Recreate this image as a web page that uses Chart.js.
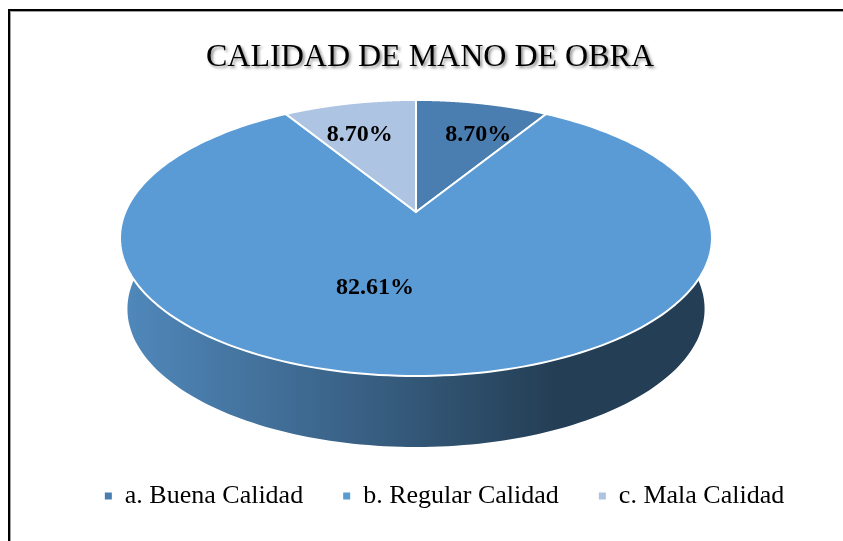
<!DOCTYPE html>
<html>
<head>
<meta charset="utf-8">
<script src="https://cdn.jsdelivr.net/npm/chart.js@4.4.0/dist/chart.umd.min.js"></script>
<style>
  html, body { margin: 0; padding: 0; background: #fff; }
  #wrap { width: 843px; height: 541px; }
</style>
</head>
<body>
<div id="wrap"><canvas id="qualityChart" width="843" height="541"></canvas></div>
<script>
const chartTitle = 'CALIDAD DE MANO DE OBRA';
const categories = ['a. Buena Calidad', 'b. Regular Calidad', 'c. Mala Calidad'];
const percentages = [8.70, 82.61, 8.70];
const sliceColors = ['#4A7EB0', '#5B9BD5', '#ADC4E3'];

// 3D pie look (perspective ellipse), measured off the Excel original
const pie = { cx: 416, cy: 212, R: 290.7, tilt: 0.458, persp: 0.188, depth: 71, shrink: 0.975 };
const labelEllipse = { cx: 416, cy: 238, rx: 296, ry: 138 };
const labelPos = [{ f: 0.78, dx: 0 }, { f: 0.36, dx: -41 }, { f: 0.78, dx: 6 }];

function rim(a, bottom) {
    const u = Math.cos(a), v = Math.sin(a);
    const s = 1 / (1 - pie.persp * v);
    let x = pie.R * u * s, y = pie.R * pie.tilt * v * s;
    if (bottom) { x *= pie.shrink; y += pie.depth; }
    return [pie.cx + x, pie.cy + y];
}

function shade(hex, k) {
    const n = parseInt(hex.slice(1), 16);
    const r = Math.round(((n >> 16) & 255) * k), g = Math.round(((n >> 8) & 255) * k), b = Math.round((n & 255) * k);
    return 'rgb(' + r + ',' + g + ',' + b + ')';
}

const pie3d = {
    id: 'pie3d',
    beforeDraw(chart) {
        const ctx = chart.ctx;
        ctx.save();
        ctx.fillStyle = '#fff';
        ctx.fillRect(0, 0, chart.width, chart.height);
        // frame
        ctx.fillStyle = '#000';
        ctx.fillRect(8, 9, 2, chart.height - 9);
        ctx.fillRect(8, 9, chart.width - 8, 2);
        ctx.fillStyle = '#a0a0a0';
        ctx.fillRect(10, 11, 1, chart.height - 11);
        ctx.fillRect(10, 11, chart.width - 10, 1);
        // title with soft shadow
        ctx.font = '32px "Liberation Serif", "Times New Roman", serif';
        ctx.textAlign = 'center';
        ctx.textBaseline = 'middle';
        ctx.shadowColor = 'rgba(0,0,0,0.45)';
        ctx.shadowOffsetX = 2;
        ctx.shadowOffsetY = 2;
        ctx.shadowBlur = 3;
        ctx.fillStyle = '#000';
        ctx.fillText(chartTitle, 430, 58);
        ctx.restore();
    },
    beforeDatasetsDraw(chart) {
        const ctx = chart.ctx;
        const arcs = chart.getDatasetMeta(0).data;
        const front0 = -0.25, front1 = Math.PI + 0.25;
        ctx.save();
        // side walls (front half only)
        arcs.forEach((arc, i) => {
            const a0 = Math.max(arc.startAngle, front0), a1 = Math.min(arc.endAngle, front1);
            if (a1 <= a0) return;
            const grad = ctx.createLinearGradient(pie.cx - pie.R, 0, pie.cx + pie.R, 0);
            grad.addColorStop(0, shade(sliceColors[i], 0.88));
            grad.addColorStop(0.5, shade(sliceColors[i], 0.56));
            grad.addColorStop(0.74, shade(sliceColors[i], 0.4));
            grad.addColorStop(1, shade(sliceColors[i], 0.4));
            ctx.fillStyle = grad;
            ctx.beginPath();
            const n = 160;
            for (let k = 0; k < n; k++) {
                const a = a0 + (a1 - a0) * k / n, b = a0 + (a1 - a0) * (k + 1) / n;
                const p1 = rim(a, false), p2 = rim(b, false), p3 = rim(b, true), p4 = rim(a, true);
                ctx.moveTo(p1[0], p1[1]);
                ctx.lineTo(p2[0], p2[1]);
                ctx.lineTo(p3[0], p3[1]);
                ctx.lineTo(p4[0], p4[1]);
                ctx.closePath();
            }
            ctx.fill();
        });
        // top face
        arcs.forEach((arc, i) => {
            ctx.beginPath();
            ctx.moveTo(pie.cx, pie.cy);
            const n = 200;
            for (let k = 0; k <= n; k++) {
                const p = rim(arc.startAngle + (arc.endAngle - arc.startAngle) * k / n, false);
                ctx.lineTo(p[0], p[1]);
            }
            ctx.closePath();
            ctx.fillStyle = sliceColors[i];
            ctx.fill();
            ctx.strokeStyle = '#fff';
            ctx.lineWidth = 2;
            ctx.lineJoin = 'round';
            ctx.stroke();
        });
        // data labels
        ctx.font = 'bold 24px "Liberation Serif", "Times New Roman", serif';
        ctx.textAlign = 'center';
        ctx.textBaseline = 'middle';
        ctx.fillStyle = '#000';
        arcs.forEach((arc, i) => {
            const mid = (arc.startAngle + arc.endAngle) / 2;
            const x = labelEllipse.cx + labelEllipse.rx * Math.cos(mid) * labelPos[i].f + labelPos[i].dx;
            const y = labelEllipse.cy + labelEllipse.ry * Math.sin(mid) * labelPos[i].f;
            ctx.fillText(percentages[i].toFixed(2) + '%', x, y);
        });
        ctx.restore();
        return false;
    }
};

const ctx = document.getElementById('qualityChart').getContext('2d');

const qualityChart = new Chart(ctx, {
    type: 'pie',
    data: {
        labels: categories,
        datasets: [{
            data: percentages,
            backgroundColor: sliceColors,
            borderWidth: 0
        }]
    },
    options: {
        responsive: false,
        animation: false,
        layout: { padding: { left: 46, right: 0, top: 0, bottom: 22 } },
        plugins: {
            title: { display: false },
            tooltip: { enabled: false },
            legend: {
                position: 'bottom',
                labels: {
                    boxWidth: 7,
                    boxHeight: 7,
                    padding: 40,
                    color: '#000',
                    font: { family: '"Liberation Serif", "Times New Roman", serif', size: 26 }
                }
            }
        }
    },
    plugins: [pie3d]
});
</script>
</body>
</html>
